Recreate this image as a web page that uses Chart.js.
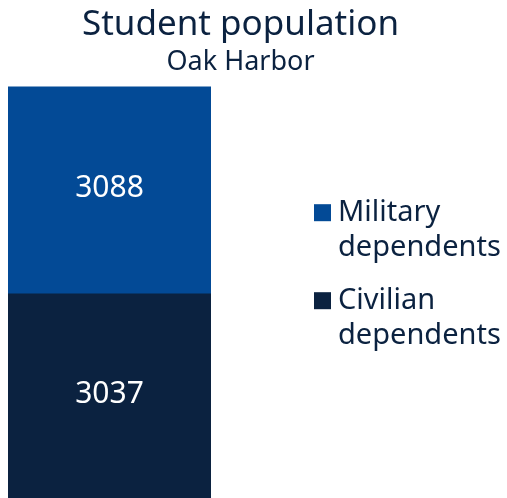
<!DOCTYPE html>
<html>
<head>
<meta charset="utf-8">
<script src="https://cdn.jsdelivr.net/npm/chart.js@4"></script>
<style>
  html, body { margin: 0; padding: 0; background: #fff; }
  #wrap { width: 507px; height: 498px; }
</style>
</head>
<body>
<div id="wrap"><canvas id="popChart"></canvas></div>
<script>
const categories = ["Oak Harbor"];
const militaryValues = [3088];
const civilianValues = [3037];
const seriesLabels = [["Military", "dependents"], ["Civilian", "dependents"]];

const navy = "#0b2240";
const blue = "#034a96";
const fontFamily = "'Noto Sans', sans-serif";

// white value labels in the middle of each bar segment
const barValues = {
    id: "barValues",
    afterDatasetsDraw(chart) {
        const ctx = chart.ctx;
        ctx.save();
        ctx.fillStyle = "#ffffff";
        ctx.font = "30px " + fontFamily;
        ctx.textAlign = "center";
        ctx.textBaseline = "middle";
        chart.data.datasets.forEach((ds, i) => {
            chart.getDatasetMeta(i).data.forEach((bar, j) => {
                ctx.fillText(String(ds.data[j]), bar.x, (bar.y + bar.base) / 2 - 2);
            });
        });
        ctx.restore();
    }
};

// legend with two-line labels, top series first
const sideLegend = {
    id: "sideLegend",
    afterDraw(chart) {
        const ctx = chart.ctx;
        const area = chart.chartArea;
        const boxX = area.right + 103;
        const textX = boxX + 24;
        const mid = (area.top + area.bottom) / 2;
        ctx.save();
        ctx.font = "29px " + fontFamily;
        ctx.textBaseline = "alphabetic";
        ctx.textAlign = "left";
        const items = chart.data.datasets.slice().reverse();
        items.forEach((ds, i) => {
            const base = mid - 71 + i * 88;
            ctx.fillStyle = ds.backgroundColor;
            ctx.fillRect(boxX, base - 17, 17, 17);
            ctx.fillStyle = navy;
            ds.label.forEach((line, k) => ctx.fillText(line, textX, base + k * 35));
        });
        ctx.restore();
    }
};

new Chart(document.getElementById("popChart"), {
    type: "bar",
    data: {
        labels: categories,
        datasets: [{
            label: seriesLabels[1],
            data: civilianValues,
            backgroundColor: navy,
        }, {
            label: seriesLabels[0],
            data: militaryValues,
            backgroundColor: blue,
        }]
    },
    options: {
        responsive: true,
        maintainAspectRatio: false,
        animation: false,
        layout: { padding: { left: -26, right: 0, top: 0, bottom: 0 } },
        datasets: { bar: { barPercentage: 1, categoryPercentage: 1 } },
        scales: {
            x: { stacked: true, display: false },
            y: {
                stacked: true,
                min: 0,
                max: militaryValues[0] + civilianValues[0],
                position: "left",
                ticks: { display: false },
                grid: { display: false },
                border: { display: false },
                afterFit: scale => { scale.width = 34; }
            },
            gap: {
                position: "right",
                display: true,
                ticks: { display: false },
                grid: { display: false },
                border: { display: false },
                afterFit: scale => { scale.width = 296; }
            }
        },
        plugins: {
            title: {
                display: true,
                text: "Student population",
                color: navy,
                font: { family: fontFamily, size: 35, weight: "normal" },
                padding: { top: 4, bottom: 0 }
            },
            subtitle: {
                display: true,
                text: categories[0],
                color: navy,
                font: { family: fontFamily, size: 27, weight: "normal" },
                padding: { top: 0, bottom: 8 }
            },
            legend: { display: false },
            tooltip: { enabled: false }
        }
    },
    plugins: [barValues, sideLegend]
});
</script>
</body>
</html>
